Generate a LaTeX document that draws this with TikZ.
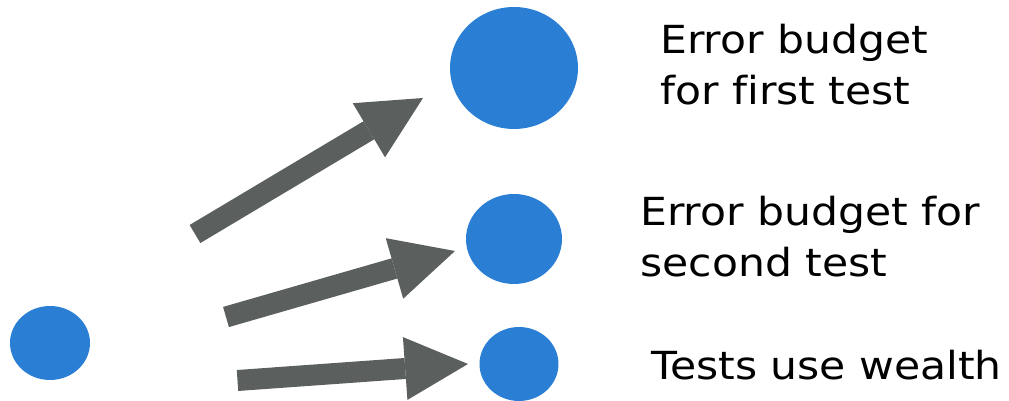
\documentclass[tikz,border=0pt]{standalone}
\usepackage{fontspec}
\newfontfamily\labelfont[FakeStretch=1.1, Ligatures=NoCommon]{DejaVu Sans}
\usetikzlibrary{arrows.meta,shapes.geometric}
\definecolor{dotblue}{HTML}{2A7FD5}
\definecolor{arrowgray}{HTML}{5B5F5D}

\begin{document}
\begin{tikzpicture}[x=0.02cm, y=-0.02cm,
    dot/.style={ellipse, fill=dotblue, inner sep=0pt},
    bigarrow/.style={draw=arrowgray, line width=0.42cm,
      -{Triangle[length=1.26cm, width=1.26cm, line width=0pt]}, arrowgray},
    label/.style={anchor=base west, inner sep=0pt, align=left,
      font=\labelfont\fontsize{22}{29.5}\selectfont}]
  \useasboundingbox (0,0) rectangle (1009,401);

  % the wealth and the three budgets
  \node[dot, minimum width=1.6cm, minimum height=1.48cm] (wealth) at (50,343) {};
  \node[dot, minimum width=2.56cm, minimum height=2.44cm] (first) at (514,68) {};
  \node[dot, minimum width=1.92cm, minimum height=1.80cm] (second) at (514,239) {};
  \node[dot, minimum width=1.58cm, minimum height=1.48cm] (uses) at (519,364) {};

  % arrow ends
  \coordinate (tailA) at (195,234);
  \coordinate (tipA) at (423,98);
  \coordinate (tailB) at (226,317);
  \coordinate (tipB) at (455,251);
  \coordinate (tailC) at (237.5,380.5);
  \coordinate (tipC) at (468,364);

  \draw[bigarrow] (tailA) -- (tipA);
  \draw[bigarrow] (tailB) -- (tipB);
  \draw[bigarrow] (tailC) -- (tipC);

  % labels (base = last line)
  \node[label] (firstlabel) at (660,105) {Error budget\\for first test};
  \node[label] (secondlabel) at (640,277) {Error budget for\\second test};
  \node[label] (useslabel) at (651,380) {Tests use wealth};
\end{tikzpicture}
\end{document}
